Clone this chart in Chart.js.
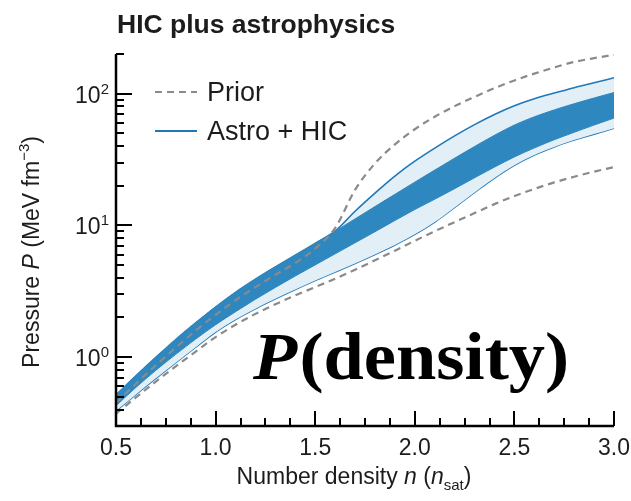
<!DOCTYPE html>
<html>
<head>
<meta charset="utf-8">
<script src="https://cdn.jsdelivr.net/npm/chart.js@4.4.1/dist/chart.umd.min.js"></script>
<style>
  html, body { margin: 0; padding: 0; background: #fff; }
  canvas { display: block; }
</style>
</head>
<body>
<canvas id="eosChart" width="631" height="501"></canvas>
<script>
/* ---------- data ---------- */
const density = [0.5, 0.6, 0.7, 0.8, 0.9, 1.0, 1.1, 1.2, 1.3, 1.4, 1.5, 1.6, 1.7,
  1.8, 1.9, 2.0, 2.1, 2.2, 2.3, 2.4, 2.5, 2.6, 2.7, 2.8, 2.9, 3.0];

const priorUpper = [0.450, 0.628, 0.867, 1.18, 1.59, 2.09, 2.70, 3.40, 4.21, 5.18, 6.67, 9.55, 18.6,
  29.5, 41.2, 53.7, 66.8, 80.4, 94.4, 110, 126, 142, 158, 174, 186, 197];
const priorLower = [0.372, 0.494, 0.652, 0.851, 1.10, 1.42, 1.76, 2.13, 2.52, 2.94, 3.40, 3.94, 4.61,
  5.43, 6.43, 7.64, 9.02, 10.6, 12.4, 14.5, 16.7, 18.9, 21.2, 23.4, 25.6, 27.7];

// Astro + HIC: outer (light) and inner (dark) credible bands
const outerUpper = [0.516, 0.721, 0.995, 1.36, 1.82, 2.40, 3.10, 3.90, 4.83, 5.94, 7.31, 9.04, 12.8,
  17.6, 23.7, 30.7, 38.6, 47.8, 58.2, 69.5, 80.9, 91.4, 101, 111, 121, 132];
const outerLower = [0.391, 0.521, 0.690, 0.908, 1.19, 1.55, 1.93, 2.33, 2.77, 3.26, 3.81, 4.42, 5.14,
  6.01, 7.10, 8.55, 10.6, 13.7, 17.8, 22.9, 28.6, 34.2, 39.4, 44.4, 49.3, 54.7];
const innerUpper = [0.516, 0.721, 0.995, 1.36, 1.82, 2.40, 3.10, 3.90, 4.83, 5.94, 7.31, 9.04, 11.2,
  13.9, 17.2, 21.3, 26.3, 32.4, 39.7, 48.3, 57.8, 66.7, 75.3, 83.9, 92.7, 102];
const innerLower = [0.427, 0.589, 0.794, 1.05, 1.37, 1.76, 2.21, 2.75, 3.38, 4.13, 5.01, 6.08, 7.38,
  8.95, 10.9, 13.2, 15.8, 19.0, 23.0, 27.7, 33.1, 38.7, 44.7, 50.9, 57.8, 65.2];

// axis ticks
const xTicks = [0.5, 0.625, 0.75, 0.875, 1.0, 1.125, 1.25, 1.375, 1.5, 1.625, 1.75, 1.875,
  2.0, 2.125, 2.25, 2.375, 2.5, 2.625, 2.75, 2.875, 3.0];
const xTickLabels = ["0.5", "1.0", "1.5", "2.0", "2.5", "3.0"];
const yMajorTicks = [1, 10, 100];
const yTickExponents = ["0", "1", "2"];
const yMinorTicks = [0.3, 0.4, 0.5, 0.6, 0.7, 0.8, 0.9, 2, 3, 4, 5, 6, 7, 8, 9,
  20, 30, 40, 50, 60, 70, 80, 90, 200];

const legendLabels = ["Prior", "Astro + HIC"];

/* ---------- colours ---------- */
const BLUE_LINE = "#1f78b8";
const BLUE_DARK = "#2f87bf";
const BLUE_LIGHT = "#e3eff7";
const PRIOR_GRAY = "#8a8a8a";
const TEXT = "#1c1c1c";
const SANS = '"Liberation Sans", Arial, sans-serif';
const SERIF = '"Liberation Serif", "Times New Roman", serif';

const pts = arr => density.map((n, i) => ({ x: n, y: arr[i] }));

/* ---------- custom axes, labels, legend ---------- */
function drawRuns(ctx, runs, x, y, align) {
  // runs: [{t, font, dy}]
  let total = 0;
  runs.forEach(r => { ctx.font = r.font; total += ctx.measureText(r.t).width; });
  let cx = align === "center" ? x - total / 2 : (align === "right" ? x - total : x);
  ctx.textAlign = "left";
  runs.forEach(r => {
    ctx.font = r.font;
    ctx.fillText(r.t, cx, y + (r.dy || 0));
    cx += ctx.measureText(r.t).width;
  });
  return total;
}

const axesPlugin = {
  id: "axesPlugin",
  afterDraw(chart) {
    const ctx = chart.ctx;
    const { left, right, top, bottom } = chart.chartArea;
    const xs = chart.scales.x, ys = chart.scales.y;
    ctx.save();
    ctx.strokeStyle = "#000";
    ctx.fillStyle = TEXT;
    ctx.textBaseline = "alphabetic";

    // axis lines
    ctx.lineWidth = 2.5;
    ctx.beginPath();
    ctx.moveTo(left, top);
    ctx.lineTo(left, bottom);
    ctx.lineTo(right, bottom);
    ctx.stroke();

    // x ticks (inward)
    ctx.lineWidth = 2;
    xTicks.forEach((v, i) => {
      const px = Math.round(xs.getPixelForValue(v));
      const len = i % 4 === 0 ? 15 : 8;
      ctx.beginPath();
      ctx.moveTo(px, bottom);
      ctx.lineTo(px, bottom - len);
      ctx.stroke();
    });
    // y ticks (inward)
    yMajorTicks.forEach(v => {
      const py = Math.round(ys.getPixelForValue(v));
      ctx.beginPath();
      ctx.moveTo(left, py);
      ctx.lineTo(left + 16, py);
      ctx.stroke();
    });
    yMinorTicks.forEach(v => {
      const py = Math.round(ys.getPixelForValue(v));
      ctx.beginPath();
      ctx.moveTo(left, py);
      ctx.lineTo(left + 8, py);
      ctx.stroke();
    });

    // x tick labels
    ctx.font = "23px " + SANS;
    ctx.textAlign = "center";
    xTickLabels.forEach(lbl => {
      ctx.fillText(lbl, xs.getPixelForValue(parseFloat(lbl)), bottom + 29);
    });
    // y tick labels 10^k
    yMajorTicks.forEach((v, i) => {
      const py = ys.getPixelForValue(v);
      drawRuns(ctx, [
        { t: "10", font: "23px " + SANS, dy: 9 },
        { t: yTickExponents[i], font: "15px " + SANS, dy: 0 }
      ], left - 7, py, "right");
    });

    // x axis title
    drawRuns(ctx, [
      { t: "Number density ", font: "23px " + SANS },
      { t: "n", font: "italic 23px " + SANS },
      { t: " (", font: "23px " + SANS },
      { t: "n", font: "italic 23px " + SANS },
      { t: "sat", font: "15px " + SANS, dy: 6 },
      { t: ")", font: "23px " + SANS }
    ], 354, 484, "center");

    // y axis title (rotated)
    ctx.save();
    ctx.translate(39, 252);
    ctx.rotate(-Math.PI / 2);
    drawRuns(ctx, [
      { t: "Pressure ", font: "23px " + SANS },
      { t: "P", font: "italic 23px " + SANS },
      { t: " (MeV fm", font: "23px " + SANS },
      { t: "\u22123", font: "15px " + SANS, dy: -10 },
      { t: ")", font: "23px " + SANS }
    ], 0, 0, "center");
    ctx.restore();

    // panel title
    ctx.font = "bold 26.5px " + SANS;
    ctx.textAlign = "left";
    ctx.fillText("HIC plus astrophysics", 117, 33);

    // legend
    ctx.lineWidth = 2;
    ctx.strokeStyle = PRIOR_GRAY;
    ctx.setLineDash([7, 5]);
    ctx.beginPath();
    ctx.moveTo(155, 92);
    ctx.lineTo(197, 92);
    ctx.stroke();
    ctx.setLineDash([]);
    ctx.strokeStyle = BLUE_LINE;
    ctx.beginPath();
    ctx.moveTo(155, 131);
    ctx.lineTo(197, 131);
    ctx.stroke();
    ctx.font = "27px " + SANS;
    ctx.fillText(legendLabels[0], 207, 101);
    ctx.fillText(legendLabels[1], 207, 140);

    // big overlay text
    ctx.fillStyle = "#000";
    const f1 = "bold italic 68px " + SERIF, f2 = "bold 68px " + SERIF;
    ctx.font = f1; const w1 = ctx.measureText("P").width;
    ctx.font = f2; const w2 = ctx.measureText("(density)").width;
    const sx = 314 / (w1 + w2);
    ctx.save();
    ctx.translate(253, 379);
    ctx.scale(sx, 1);
    ctx.font = f1; ctx.fillText("P", 0, 0);
    ctx.font = f2; ctx.fillText("(density)", w1 + 2, 0);
    ctx.restore();

    ctx.restore();
  }
};

/* ---------- chart ---------- */
const ctx = document.getElementById("eosChart").getContext("2d");
new Chart(ctx, {
  type: "line",
  data: {
    datasets: [
      { label: "outerUpper", data: pts(outerUpper), borderColor: BLUE_LINE, borderWidth: 1.6,
        backgroundColor: BLUE_LIGHT, fill: "+1", order: 3 },
      { label: "outerLower", data: pts(outerLower), borderColor: BLUE_LINE, borderWidth: 1.6,
        fill: false, order: 3 },
      { label: "innerUpper", data: pts(innerUpper), borderColor: BLUE_DARK, borderWidth: 1,
        backgroundColor: BLUE_DARK, fill: "+1", order: 2 },
      { label: "innerLower", data: pts(innerLower), borderColor: BLUE_DARK, borderWidth: 1,
        fill: false, order: 2 },
      { label: "priorUpper", data: pts(priorUpper), borderColor: PRIOR_GRAY, borderWidth: 2.2,
        borderDash: [7, 5], fill: false, order: 1 },
      { label: "priorLower", data: pts(priorLower), borderColor: PRIOR_GRAY, borderWidth: 2.2,
        borderDash: [7, 5], fill: false, order: 1 }
    ]
  },
  options: {
    responsive: false,
    animation: false,
    layout: { padding: { left: 116, right: 17, top: 54, bottom: 75 } },
    elements: { point: { radius: 0 }, line: { cubicInterpolationMode: "monotone" } },
    plugins: { legend: { display: false }, tooltip: { enabled: false } },
    scales: {
      x: { type: "linear", min: 0.5, max: 3.0, display: false },
      y: { type: "logarithmic", min: 0.3, max: 200, display: false }
    }
  },
  plugins: [axesPlugin]
});
</script>
</body>
</html>
